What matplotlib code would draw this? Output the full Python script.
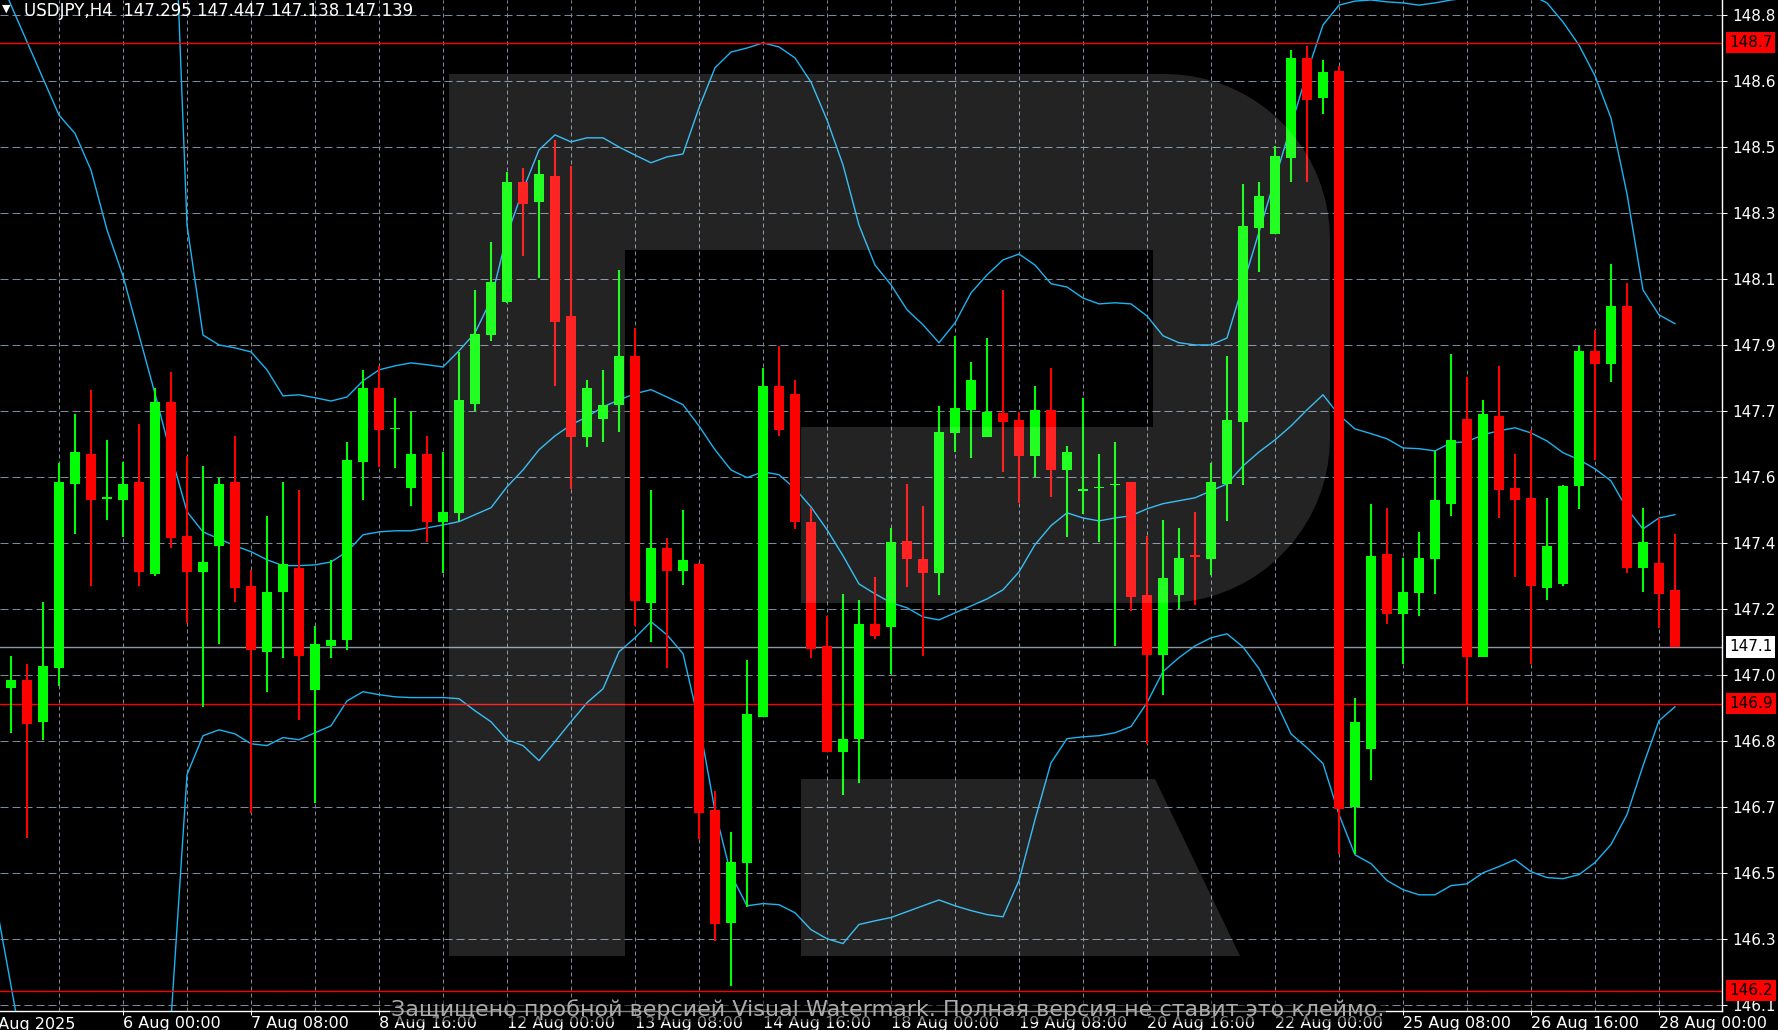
import numpy as np
import matplotlib
matplotlib.use("Agg")
from matplotlib import pyplot as plt
from matplotlib.patches import Polygon

# ---- data (USDJPY H4) ----
symbol = "USDJPY,H4"
last_ohlc = [147.295, 147.447, 147.138, 147.139]

opens = [147.028, 147.050, 146.935, 147.082, 147.584, 147.666, 147.543, 147.541, 147.590, 147.339,
         147.808, 147.442, 147.344, 147.415, 147.590, 147.306, 147.126, 147.290, 147.355, 147.022,
         147.142, 147.159, 147.644, 147.846, 147.734, 147.573, 147.666, 147.481, 147.505, 147.802,
         147.990, 148.080, 148.408, 148.353, 148.424, 148.042, 147.712, 147.761, 147.800, 147.933,
         147.260, 147.410, 147.347, 147.366, 146.695, 146.387, 146.551, 146.949, 147.851, 147.830,
         147.481, 147.142, 146.853, 146.889, 147.202, 147.194, 147.429, 147.380, 147.341, 147.723,
         147.786, 147.712, 147.778, 147.759, 147.661, 147.786, 147.622, 147.565, 147.573, 147.581,
         147.590, 147.281, 147.118, 147.281, 147.391, 147.380, 147.584, 147.753, 148.282, 148.266,
         148.473, 148.746, 148.637, 148.710, 146.703, 146.861, 147.393, 147.230, 147.287, 147.380,
         147.530, 147.761, 147.112, 147.770, 147.573, 147.546, 147.300, 147.311, 147.579, 147.947,
         147.911, 148.070, 147.355, 147.369, 147.295]
highs = [147.114, 147.093, 147.262, 147.641, 147.775, 147.841, 147.704, 147.644, 147.748, 147.846,
         147.890, 147.661, 147.633, 147.601, 147.715, 147.350, 147.497, 147.590, 147.568, 147.197,
         147.377, 147.699, 147.895, 147.906, 147.819, 147.781, 147.715, 147.671, 147.944, 148.113,
         148.244, 148.435, 148.446, 148.468, 148.522, 148.451, 147.868, 147.895, 148.168, 148.010,
         147.568, 147.437, 147.513, 147.368, 146.747, 146.635, 147.104, 147.900, 147.961, 147.868,
         147.519, 147.224, 147.284, 147.267, 147.331, 147.464, 147.584, 147.524, 147.797, 147.988,
         147.917, 147.982, 148.113, 147.781, 147.851, 147.900, 147.688, 147.819, 147.666, 147.699,
         147.590, 147.442, 147.486, 147.464, 147.508, 147.641, 147.933, 148.402, 148.408, 148.506,
         148.768, 148.779, 148.740, 148.724, 147.001, 147.530, 147.519, 147.382, 147.453, 147.674,
         147.939, 147.876, 147.813, 147.906, 147.666, 147.731, 147.546, 147.581, 147.961, 148.004,
         148.184, 148.132, 147.519, 147.491, 147.447]
lows = [146.905, 146.619, 146.886, 147.033, 147.448, 147.306, 147.486, 147.440, 147.306, 147.333,
        147.410, 147.205, 146.976, 147.148, 147.262, 146.687, 147.017, 147.110, 146.941, 146.714,
        147.110, 147.131, 147.541, 147.631, 147.628, 147.524, 147.426, 147.341, 147.483, 147.783,
        147.974, 148.078, 148.206, 148.146, 147.851, 147.571, 147.685, 147.699, 147.726, 147.197,
        147.153, 147.082, 147.309, 146.616, 146.338, 146.213, 146.431, 146.949, 147.715, 147.461,
        147.110, 146.853, 146.736, 146.769, 147.161, 147.066, 147.303, 147.115, 147.281, 147.671,
        147.655, 147.712, 147.617, 147.532, 147.603, 147.549, 147.440, 147.502, 147.426, 147.142,
        147.238, 146.875, 147.009, 147.243, 147.254, 147.336, 147.483, 147.581, 148.162, 148.266,
        148.408, 148.408, 148.593, 146.575, 146.575, 146.777, 147.202, 147.093, 147.224, 147.284,
        147.497, 146.984, 147.112, 147.491, 147.331, 147.093, 147.267, 147.306, 147.516, 147.650,
        147.862, 147.341, 147.290, 147.191, 147.138]
closes = [147.050, 146.930, 147.088, 147.590, 147.671, 147.541, 147.549, 147.584, 147.344, 147.808,
          147.437, 147.344, 147.371, 147.584, 147.300, 147.131, 147.290, 147.366, 147.115, 147.148,
          147.159, 147.650, 147.846, 147.731, 147.737, 147.666, 147.481, 147.508, 147.813, 147.993,
          148.135, 148.408, 148.348, 148.430, 148.026, 147.712, 147.846, 147.800, 147.933, 147.265,
          147.410, 147.347, 147.377, 146.687, 146.382, 146.553, 146.957, 147.851, 147.731, 147.481,
          147.134, 146.853, 146.889, 147.202, 147.170, 147.426, 147.380, 147.341, 147.726, 147.791,
          147.868, 147.781, 147.753, 147.661, 147.786, 147.622, 147.671, 147.571, 147.576, 147.584,
          147.276, 147.118, 147.328, 147.382, 147.385, 147.590, 147.759, 148.288, 148.369, 148.479,
          148.746, 148.631, 148.708, 146.698, 146.935, 147.388, 147.230, 147.290, 147.382, 147.541,
          147.704, 147.112, 147.775, 147.568, 147.541, 147.306, 147.415, 147.579, 147.947, 147.911,
          148.070, 147.355, 147.426, 147.284, 147.139]

# Bollinger bands, one value per bar starting at bar -1
band_start = -1
bb_upper = [151.60, 151.40, 151.20, 151.00, 150.80, 150.60, 150.40, 150.20, 150.00, 149.80, 149.60, 149.42,
            148.290, 147.990, 147.963, 147.955, 147.944, 147.895, 147.824, 147.827, 147.819, 147.810,
            147.821, 147.865, 147.895, 147.906, 147.914, 147.909, 147.903, 147.947, 147.996, 148.086,
            148.263, 148.386, 148.495, 148.536, 148.517, 148.528, 148.528, 148.503, 148.481, 148.460,
            148.476, 148.484, 148.610, 148.719, 148.762, 148.773, 148.787, 148.776, 148.746, 148.680,
            148.577, 148.454, 148.290, 148.181, 148.127, 148.059, 148.018, 147.969, 148.023, 148.105,
            148.154, 148.195, 148.211, 148.181, 148.130, 148.121, 148.091, 148.075, 148.078, 148.075,
            148.042, 147.988, 147.969, 147.963, 147.963, 147.982, 148.127, 148.271, 148.416, 148.560,
            148.705, 148.836, 148.890, 148.901, 148.904, 148.899, 148.896, 148.890, 148.896, 148.904,
            148.909, 148.926, 148.937, 148.931, 148.918, 148.896, 148.844, 148.781, 148.697, 148.582,
            148.375, 148.113, 148.045, 148.021]
bb_middle = [149.000, 148.890, 148.790, 148.690, 148.590, 148.540, 148.440, 148.277, 148.151, 147.990, 147.830,
             147.663, 147.508, 147.453, 147.434, 147.415, 147.399, 147.377, 147.361, 147.361, 147.363,
             147.371, 147.399, 147.445, 147.453, 147.456, 147.456, 147.464, 147.472, 147.481, 147.500,
             147.519, 147.576, 147.622, 147.677, 147.715, 147.745, 147.767, 147.794, 147.813, 147.830,
             147.841, 147.821, 147.800, 147.742, 147.677, 147.622, 147.601, 147.617, 147.609, 147.571,
             147.521, 147.459, 147.388, 147.311, 147.284, 147.260, 147.246, 147.221, 147.213, 147.232,
             147.251, 147.270, 147.295, 147.344, 147.418, 147.470, 147.505, 147.491, 147.483, 147.491,
             147.497, 147.516, 147.530, 147.538, 147.546, 147.565, 147.584, 147.633, 147.671, 147.704,
             147.742, 147.786, 147.827, 147.772, 147.734, 147.721, 147.707, 147.682, 147.680, 147.674,
             147.696, 147.699, 147.718, 147.729, 147.737, 147.723, 147.701, 147.669, 147.650, 147.625,
             147.592, 147.516, 147.461, 147.491, 147.500]
bb_lower = [146.455, 146.215, 145.975, 145.90, 145.85, 145.80, 145.80, 145.80, 145.85, 145.90, 146.00,
            146.122, 146.791, 146.897, 146.913, 146.902, 146.875, 146.870, 146.892, 146.886, 146.905,
            146.924, 146.992, 147.017, 147.009, 147.003, 147.001, 147.001, 147.001, 146.998, 146.965,
            146.935, 146.886, 146.870, 146.829, 146.881, 146.935, 146.987, 147.025, 147.126, 147.164,
            147.208, 147.172, 147.121, 146.932, 146.692, 146.518, 146.433, 146.439, 146.436, 146.414,
            146.368, 146.343, 146.330, 146.382, 146.392, 146.401, 146.417, 146.433, 146.449, 146.433,
            146.420, 146.409, 146.403, 146.502, 146.668, 146.823, 146.889, 146.894, 146.897, 146.905,
            146.922, 146.987, 147.072, 147.110, 147.142, 147.164, 147.175, 147.139, 147.080, 146.995,
            146.902, 146.864, 146.821, 146.682, 146.572, 146.548, 146.502, 146.477, 146.463, 146.463,
            146.488, 146.493, 146.523, 146.540, 146.559, 146.526, 146.510, 146.507, 146.518, 146.551,
            146.600, 146.682, 146.815, 146.938, 146.976]

level_prices = [148.787, 146.984, 146.201]
level_labels = ["148.7", "146.9", "146.2"]
current_price = 147.139
current_label = "147.1"

price_ticks = [148.863, 148.683, 148.503, 148.323, 148.143, 147.963, 147.783, 147.603,
               147.423, 147.243, 147.063, 146.883, 146.703, 146.523, 146.343, 146.163]
price_tick_labels = ["148.8", "148.6", "148.5", "148.3", "148.1", "147.9", "147.7", "147.6",
                     "147.4", "147.2", "147.0", "146.8", "146.7", "146.5", "146.3", "146.1"]

time_tick_bars = [7, 15, 23, 31, 39, 47, 55, 63, 71, 79, 87, 95, 103]
time_tick_labels = ["6 Aug 00:00", "7 Aug 08:00", "8 Aug 16:00", "12 Aug 00:00", "13 Aug 08:00",
                    "14 Aug 16:00", "18 Aug 00:00", "19 Aug 08:00", "20 Aug 16:00", "22 Aug 00:00",
                    "25 Aug 08:00", "26 Aug 16:00", "28 Aug 00:00"]
first_label = "4 Aug 2025"
grid_bars = list(range(3, 105, 4))

watermark = "Защищено пробной версией Visual Watermark. Полная версия не ставит это клеймо."

# ---- styling ----
W, H = 1778, 1030
PLOT_W, PLOT_H = 1722, 1011
PX = 0.72  # one pixel in points at dpi 100
BULL = "#00ff00"
BEAR = "#ff0000"
GRID = "#7a8a9c"
BAND = "#1ab4f2"


def px_fig(x, y):
    return x / W, 1 - y / H


def r_logo_points():
    r = 165
    pts = [(449, 74), (1165, 74)]
    for t in np.linspace(90, 0, 20):
        pts.append((1165 + r * np.cos(np.radians(t)), 239 - r * np.sin(np.radians(t))))
    for t in np.linspace(0, -90, 20):
        pts.append((1165 + r * np.cos(np.radians(t)), 438 - r * np.sin(np.radians(t))))
    pts += [(801, 603), (801, 427), (1153, 427), (1153, 250), (625, 250), (625, 956), (449, 956)]
    return [px_fig(x, y) for x, y in pts]


fig = plt.figure(figsize=(W / 100, H / 100), dpi=100, facecolor="black")
ax = fig.add_axes([0, (H - PLOT_H) / H, PLOT_W / W, PLOT_H / H])
ax.set_facecolor("black")
ax.set_xlim(-0.6875, 106.9375)
ax.set_ylim(146.146, 148.904)

for p in price_ticks:
    ax.axhline(p, color=GRID, lw=PX, ls=(0, (8, 4)), zorder=1)
for b in grid_bars:
    ax.axvline(b, color=GRID, lw=PX, ls=(0, (4, 3)), zorder=1)

band_x = np.arange(band_start, band_start + len(bb_upper))
for band in (bb_upper, bb_middle, bb_lower):
    ax.plot(band_x, band, color=BAND, lw=1.0, zorder=2)

for lvl in level_prices:
    ax.axhline(lvl, color="#ff0000", lw=1.0, zorder=2)
ax.axhline(current_price, color="#8c96a2", lw=1.0, zorder=2)

bars = np.arange(len(opens))
o = np.array(opens)
c = np.array(closes)
colors = [BULL if cc >= oo else BEAR for oo, cc in zip(o, c)]
ax.vlines(bars, lows, highs, colors=colors, lw=1.5, zorder=3)
ax.bar(bars, np.abs(c - o), bottom=np.minimum(o, c), width=0.62, color=colors, lw=0, zorder=4)

# watermark logo, light overlay on top of the chart
fig.add_artist(Polygon(r_logo_points(), closed=True, transform=fig.transFigure,
                       facecolor="white", alpha=0.14, edgecolor="none", zorder=5))
leg = [(801, 779), (1155, 779), (1240, 956), (801, 956)]
fig.add_artist(Polygon([px_fig(x, y) for x, y in leg], closed=True, transform=fig.transFigure,
                       facecolor="white", alpha=0.14, edgecolor="none", zorder=5))

# axes look
for side in ("top", "left"):
    ax.spines[side].set_visible(False)
for side in ("right", "bottom"):
    ax.spines[side].set_color("white")
    ax.spines[side].set_linewidth(1.0)

ax.yaxis.tick_right()
ax.set_yticks(price_ticks, labels=price_tick_labels)
ax.tick_params(axis="y", colors="white", length=5 * PX, width=PX, pad=5 * PX, labelsize=11)
ax.set_xticks(time_tick_bars, labels=time_tick_labels)
ax.tick_params(axis="x", colors="white", length=4 * PX, width=PX, pad=1 * PX, labelsize=11.5)
plt.setp(ax.get_xticklabels(), ha="left")
ax.text(-1.75, -0.0055, first_label, transform=ax.get_xaxis_transform(),
        ha="left", va="top", color="white", fontsize=11.5, clip_on=False)

ytr = ax.get_yaxis_transform()
for lvl, lab in zip(level_prices, level_labels):
    ax.text(1729 / PLOT_W, lvl, lab, transform=ytr, ha="left", va="center", color="black",
            fontsize=11, zorder=10, clip_on=False,
            bbox=dict(boxstyle="square,pad=0.2", fc="#ff0000", ec="none"))
ax.text(1729 / PLOT_W, current_price, current_label, transform=ytr, ha="left", va="center",
        color="black", fontsize=11, zorder=10, clip_on=False,
        bbox=dict(boxstyle="square,pad=0.2", fc="white", ec="none"))

# header
fig.text(*px_fig(2, 4), "\u25bc", color="white", fontsize=8, ha="left", va="top")
header = symbol + "  " + " ".join(f"{v:.3f}" for v in last_ohlc)
fig.text(*px_fig(24, 2), header, color="white", fontsize=12, ha="left", va="top")

fig.text(*px_fig(888, 1010), watermark, color="#ababab", fontsize=16, ha="center", va="center",
         zorder=20, bbox=dict(boxstyle="square,pad=0.05", fc=(0, 0, 0, 0.5), ec="none"))

fig.savefig("out.png", dpi=100, facecolor="black")
